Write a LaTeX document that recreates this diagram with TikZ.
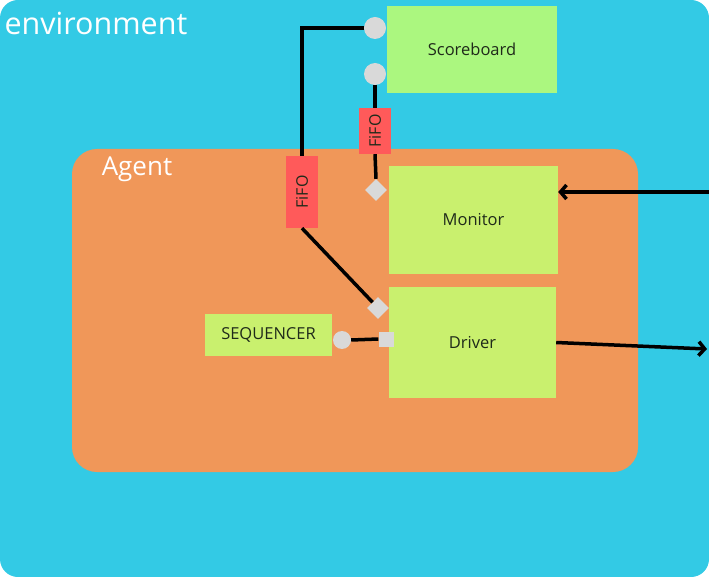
\documentclass[tikz,border=0pt]{standalone}
\usepackage{fontspec}
\setmainfont{Open Sans}
\usetikzlibrary{shapes.geometric,arrows.meta}
\definecolor{envblue}{HTML}{33CAE5}
\definecolor{agentorange}{HTML}{F09759}
\definecolor{sbgreen}{HTML}{ABF77F}
\definecolor{compgreen}{HTML}{C9F06E}
\definecolor{fifored}{HTML}{FF5A5A}
\definecolor{portgray}{HTML}{D9D9D9}
\definecolor{txtdark}{HTML}{1F2A1A}

\begin{document}
\begin{tikzpicture}[x=1pt,y=-1pt,
        comp/.style={fill=compgreen,inner sep=0pt,text=txtdark,font=\fontsize{16.5}{19}\selectfont},
        fifo/.style={fill=fifored,rotate=90,inner sep=0pt,text=txtdark,font=\fontsize{16}{18}\selectfont},
        portc/.style={circle,fill=portgray,inner sep=0pt},
        portd/.style={diamond,fill=portgray,inner sep=0pt,minimum size=22pt},
        ports/.style={rectangle,fill=portgray,inner sep=0pt,minimum size=15pt},
        wire/.style={line width=3.5pt},
        arr/.style={line width=3.5pt,-{Straight Barb[length=6pt,width=14pt]}}]
    \useasboundingbox (0,0) rectangle (709,577);
    % environment and agent
    \fill[envblue,rounded corners=18pt] (0,0) rectangle (709,577);
    \node[anchor=west,text=white,font=\fontsize{30.5}{34}\selectfont] (envlbl) at (1,23) {environment};
    \fill[agentorange,rounded corners=25pt] (72,149) rectangle (638,472);
    \node[text=white,font=\fontsize{26}{30}\selectfont] (agentlbl) at (137,169) {Agent};
    % components
    \node[comp,fill=sbgreen,minimum width=170pt,minimum height=87pt] (score) at (472,49.5) {Scoreboard};
    \node[comp,minimum width=169pt,minimum height=108pt] (monitor) at (473.5,220) {Monitor};
    \node[comp,minimum width=167pt,minimum height=111pt] (driver) at (472.5,342.5) {Driver};
    \node[comp,minimum width=127pt,minimum height=42pt] (seq) at (268.5,335) {SEQUENCER};
    \node[fifo,minimum width=72pt,minimum height=32pt] (fifoL) at (302,192) {FiFO};
    \node[fifo,minimum width=46pt,minimum height=32pt] (fifoT) at (375,131) {FiFO};
    % ports
    \node[portc,minimum size=22pt] (sc1) at (375,28) {};
    \node[portc,minimum size=22pt] (sc2) at (375,74) {};
    \node[portc,minimum size=18pt] (seqp) at (342,340) {};
    \node[portd] (monp) at (376,190) {};
    \node[portd] (drvp) at (378,308) {};
    \node[ports] (drvs) at (386,339) {};
    \coordinate (inM) at (709,192);
    \coordinate (outD) at (707,349);
    % connections
    \draw[wire] (sc1.west) -| (fifoL.east);
    \draw[wire] (fifoL.west) -- (drvp);
    \draw[wire] (sc2.south) -- (fifoT.east);
    \draw[wire] (fifoT.west) -- (monp.north);
    \draw[wire] (seqp.east) -- (drvs.west);
    \draw[arr] (inM) -- (inM -| monitor.east);
    \draw[arr] (driver.east) -- (outD);
\end{tikzpicture}
\end{document}
